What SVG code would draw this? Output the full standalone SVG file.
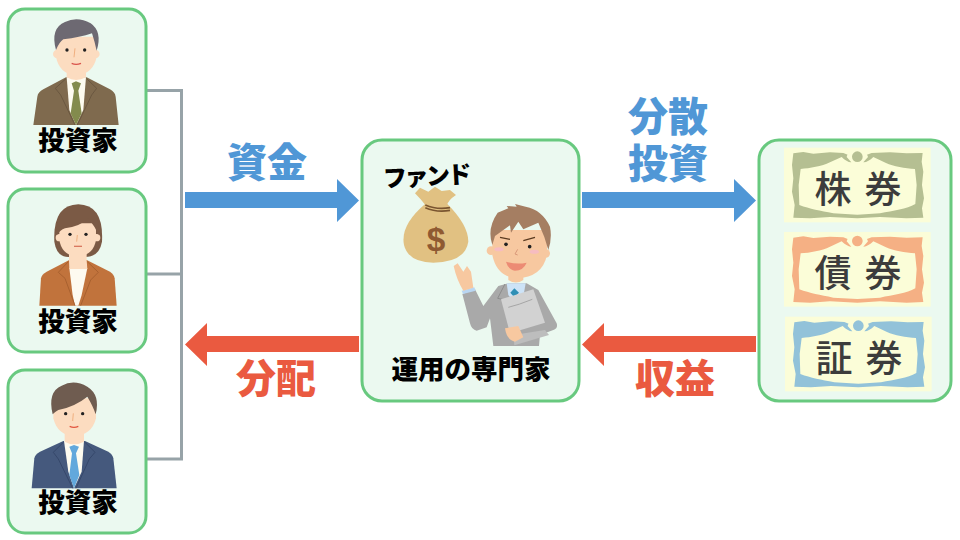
<svg xmlns="http://www.w3.org/2000/svg" width="960" height="540" viewBox="0 0 960 540">
<style>
text{font-family:"Noto Sans CJK JP","Noto Sans CJK SC",sans-serif;text-anchor:middle}
.box{fill:#ebf9f0;stroke:#68c97f;stroke-width:3}
.lbl{font-size:26.500px;font-weight:900;fill:#000}
.big{font-size:40px;font-weight:900}
.blue{fill:#5097d6}.red{fill:#ea5a40}
.cert{font-size:37px;font-weight:500;fill:#3c3c3c}
.skin{fill:#fcdcc0}.eye{fill:#222}.pskin{fill:#f7c8a0}
.line{fill:none;stroke:#97a3a8;stroke-width:3}
</style>
<defs>
<g id="cert">
<rect x="12" y="8" width="440" height="224" fill="#fbfdd8"/>
<path d="M40,25 L70,21 100,26 150,22 190,24 205,30 212,22 252,22 259,30 275,24 330,22 380,25 428,24 425,50 430,80 426,120 432,160 426,190 430,218 380,220 300,216 232,220 150,216 90,220 40,218 44,180 36,140 40,100 36,60 Z"/>
<path d="M62,72 C90,70 125,64 150,52 L185,36 C195,46 207,53 214,52 L200,36 C204,22 214,14 232,13 C250,14 260,22 264,36 L250,52 C258,53 270,46 280,36 L318,54 C340,64 375,70 405,72 L410,120 406,177 C380,192 340,197 300,205 L232,209 160,205 C120,197 90,192 58,180 L56,120 Z" fill="#fbfdd8"/>
<circle cx="232" cy="35" r="16"/>
</g>
</defs>
<g id="connectors">
<path class="line" d="M146,90.500H181.500V459H146"/>
<path class="line" d="M146,274H181.500"/>
<path class="blue" d="M185,192H337V179L359,200.500 337,222V208H185Z"/>
<path class="blue" d="M582,192H734V179L756,200.500 734,222V208H582Z"/>
<path class="red" d="M359,336H207V323L185,344.500 207,366V352H359Z"/>
<path class="red" d="M756,336H604V323L582,344.500 604,366V352H756Z"/>
</g>
<g id="label-shikin"><text class="big blue" x="267" y="177">資金</text></g>
<g id="label-haibun"><text class="big red" x="276" y="393">分配</text></g>
<g id="label-bunsan"><text class="big blue"><tspan x="668" y="131">分散</tspan><tspan x="668" y="178">投資</tspan></text></g>
<g id="label-shueki"><text class="big red" x="675" y="393">収益</text></g>

<g id="investor1">
<rect class="box" x="8" y="9" width="138" height="163" rx="17"/>
<g transform="scale(.3333)">
<path fill="#7f6a4e" d="M100,375 L112,290 Q114,276 130,268 L198,232 H260 L330,268 Q345,276 347,290 L356,375Z"/>
<path fill="#fdfbf0" d="M200,232H258L250,330 228,375 208,330Z"/>
<path fill="#838b4d" d="M215,250 228,244 243,250 235,272 245,340 228,375 212,340 222,272Z"/>
<path fill="none" stroke="#6a5740" stroke-width="3" d="M198,236 166,265 182,285 225,375M260,236 290,265 275,285 232,375"/>
<path class="skin" d="M200,195H258V232Q228,248 200,232Z"/>
<circle class="skin" cx="172" cy="162" r="13"/><circle class="skin" cx="286" cy="162" r="13"/>
<path class="skin" d="M168,110H290V170Q280,222 228,226 178,222 168,170Z"/>
<path fill="#6d6972" d="M168,150Q150,85 195,66 232,48 272,70 308,95 290,152 284,125 276,100 240,112 190,118 178,126 168,150Z"/>
<circle class="eye" cx="201" cy="150" r="5"/><circle class="eye" cx="254" cy="150" r="5"/>
<path fill="none" stroke="#f0b080" stroke-width="3" d="M225,145 222,172"/>
<path fill="none" stroke="#d9534a" stroke-width="4" d="M215,190Q228,196 243,190"/>
</g>
<text class="lbl" x="78" y="150">投資家</text>
</g>

<g id="investor2">
<rect class="box" x="8" y="189" width="138" height="163" rx="17"/>
<g transform="translate(0,185) scale(.3333)">
<path fill="#7b5a45" d="M163,170Q158,60 235,58 312,60 306,170 298,216 255,216H205Q170,216 163,170Z"/>
<path fill="#c1733c" d="M118,362 L123,280 Q125,268 140,260 L208,225 H260 L330,260 Q342,268 344,280 L350,362Z"/>
<path fill="#fdfaf0" d="M208,250H262L245,330 235,362H225L218,330Z"/>
<path fill="none" stroke="#a8602f" stroke-width="3" d="M205,230 175,262 195,280 225,362M262,230 295,262 272,285 242,362"/>
<path class="skin" d="M207,195H260V225L262,252H208L207,225Z"/>
<circle class="skin" cx="178" cy="158" r="11"/><circle class="skin" cx="290" cy="158" r="11"/>
<path class="skin" d="M178,115H288V165Q280,212 232,214 186,212 178,165Z"/>
<path fill="#7b5a45" d="M172,150Q165,85 200,68 235,50 275,75 302,100 296,150 285,125 265,100 240,125 195,130 180,135 172,150Z"/>
<circle class="eye" cx="210" cy="148" r="5"/><circle class="eye" cx="258" cy="148" r="5"/>
<path fill="none" stroke="#f0b080" stroke-width="3" d="M232,150 230,170"/>
<path fill="none" stroke="#d97860" stroke-width="4" d="M222,184H246"/>
</g>
<text class="lbl" x="78" y="331">投資家</text>
</g>

<g id="investor3">
<rect class="box" x="8" y="370" width="138" height="163" rx="17"/>
<g transform="translate(0,365) scale(.3333)">
<path fill="#45597d" d="M95,370 L103,280 Q105,268 120,260 L190,228 H255 L325,260 Q338,268 340,280 L350,370Z"/>
<path fill="#fdfbf0" d="M192,228H252L245,320 222,370 205,320Z"/>
<path fill="#62a8dc" d="M208,245 222,240 237,245 228,265 238,330 222,370 208,330 216,265Z"/>
<path fill="none" stroke="#35476a" stroke-width="3" d="M190,232 160,262 175,282 218,370M255,232 285,262 268,282 228,370"/>
<path class="skin" d="M194,190H252V230Q222,246 194,230Z"/>
<path class="skin" d="M160,100H288V160Q276,210 222,214 172,210 160,160Z"/>
<path fill="#6f5c50" d="M158,148Q142,80 185,62 222,42 262,65 302,90 287,148 280,125 262,95 225,125 175,135 165,140 158,148Z"/>
<circle class="eye" cx="197" cy="146" r="5"/><circle class="eye" cx="248" cy="146" r="5"/>
<path fill="none" stroke="#f0b080" stroke-width="3" d="M220,145 218,168"/>
<path fill="none" stroke="#e2553f" stroke-width="4" d="M209,184Q222,190 235,184"/>
</g>
<text class="lbl" x="78" y="512">投資家</text>
</g>

<g id="fund">
<rect class="box" x="362" y="140" width="217" height="261" rx="20"/>
<text transform="rotate(-3 426 176)" x="426" y="185" font-size="24" font-weight="900" letter-spacing="-2.500" fill="#000">ファンド</text>
<g id="bag" transform="translate(400,185) scale(.3333)">
<path fill="#e1c182" d="M78,55Q0,120 12,180 25,232 100,233 195,232 205,170 205,120 140,55Z"/>
<path fill="#e1c182" d="M78,62Q60,40 45,25L60,8 85,20 105,5 125,18 150,15 168,30Q145,45 140,62Z"/>
<path fill="none" stroke="#7a5530" stroke-width="5" d="M76,60Q110,75 150,68M76,68Q110,83 150,76"/>
<text x="108" y="197" font-size="100" font-weight="700" fill="#8f5a32" style="font-family:'Liberation Sans',sans-serif">$</text>
</g>
<g id="expert" transform="translate(455,200) scale(.3333)">
<path fill="#a9a9a9" d="M22,282 60,268 85,318 130,258 160,250H215L250,270 305,370Q310,385 295,390L255,405 252,438H115L105,355 95,382 65,392Q50,390 45,370Z"/>
<path fill="#cde3f7" d="M155,250H212L205,290 175,305 160,285Z"/>
<path fill="#2f8fb5" d="M178,265 192,278 178,292 166,278Z"/>
<path fill="none" stroke="#8c8c8c" stroke-width="3" d="M150,252 128,295 150,300"/>
<path fill="#b9d6f2" d="M20,272 58,262 62,272 24,282Z"/>
<path class="pskin" d="M55,263 25,272Q5,240 -4,198L8,190 25,215 36,198 48,215Z"/>
<path class="pskin" d="M160,205H205V240Q183,255 160,240Z"/>
<circle class="pskin" cx="108" cy="152" r="13"/><circle class="pskin" cx="272" cy="160" r="13"/>
<path class="pskin" d="M112,90H276V165Q262,232 185,235 125,230 112,165Z"/>
<ellipse cx="132" cy="148" rx="14" ry="6" fill="#f6bcc0"/><ellipse cx="238" cy="155" rx="14" ry="6" fill="#f6bcc0"/>
<path fill="#a57e62" d="M112,135Q95,85 128,38L160,25 155,18 185,20 180,12 212,20Q262,30 285,80 292,115 280,150 270,110 250,68L205,88 190,65 168,98 165,76 120,108Z"/>
<path fill="none" stroke="#5a3a20" stroke-width="4" d="M135,112 165,118M205,122 240,112"/>
<circle class="eye" cx="153" cy="133" r="5.500"/><circle class="eye" cx="224" cy="140" r="5.500"/>
<path fill="none" stroke="#d99878" stroke-width="3" d="M188,148 180,162 188,165"/>
<path fill="#ec8b74" d="M153,185Q185,195 215,188 205,212 180,212 160,210 153,185Z"/>
<path fill="#bdbdbd" d="M178,436 282,405 270,390 175,405Z"/>
<path fill="#d2d2d2" d="M138,298 235,268 270,368 165,400Z"/>
<path fill="none" stroke="#9c9c9c" stroke-width="2.500" d="M160,322Q190,315 232,298"/>
<path class="pskin" d="M150,385 190,378 205,412 180,425Q155,420 150,385Z"/>
</g>
<text class="lbl" x="471" y="379">運用の専門家</text>
</g>

<g id="securities">
<rect class="box" x="759" y="140" width="192" height="261" rx="20"/>
<g transform="translate(780,145) scale(.3333)"><use href="#cert" fill="#b5bf92"/></g>
<g transform="translate(780,229.300) scale(.3333)"><use href="#cert" fill="#f5b084"/></g>
<g transform="translate(781,314) scale(.3333)"><use href="#cert" fill="#92c2d9"/></g>
<text class="cert" x="833" y="203">株</text><text class="cert" x="883" y="203">券</text>
<text class="cert" x="833" y="287">債</text><text class="cert" x="883" y="287">券</text>
<text class="cert" x="834" y="372">証</text><text class="cert" x="884" y="372">券</text>
</g>
</svg>
